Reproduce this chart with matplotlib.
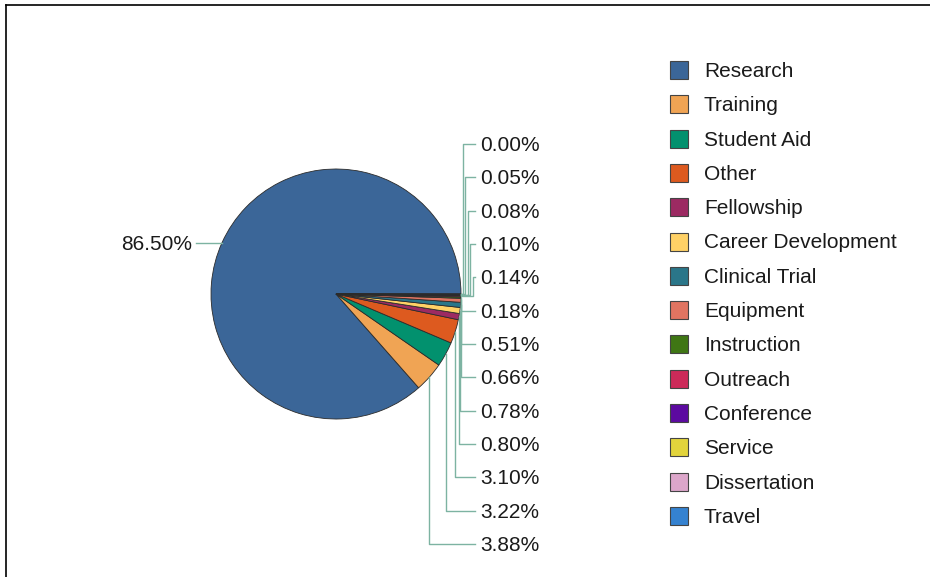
import numpy as np
import matplotlib.pyplot as plt
from matplotlib.patches import Rectangle
from matplotlib.lines import Line2D

plt.rcParams['font.family'] = ['Liberation Sans', 'DejaVu Sans']

# Daten
categories = ['Research', 'Training', 'Student Aid', 'Other', 'Fellowship',
              'Career Development', 'Clinical Trial', 'Equipment', 'Instruction',
              'Outreach', 'Conference', 'Service', 'Dissertation', 'Travel']
shares = [86.50, 3.88, 3.22, 3.10, 0.80, 0.78, 0.66, 0.51, 0.18, 0.14, 0.10, 0.08, 0.05, 0.00]
colors = ['#3b6698', '#f0a454', '#02916e', '#dd5a1f', '#9c2a62', '#ffd166',
          '#2a7689', '#e07461', '#3f7614', '#cc2a59', '#5c0aa0', '#e2d43c',
          '#dca6ca', '#3582d0']

W, H = 930, 577
fig = plt.figure(figsize=(W / 100, H / 100), dpi=100)
ax = fig.add_axes([0, 0, 1, 1])

# Pie (Pixelkoordinaten, y nach oben)
cx, cy, r = 336, H - 294, 125
wedges, _ = ax.pie(shares, colors=colors, startangle=0, counterclock=True,
                   center=(cx, cy), radius=r,
                   wedgeprops=dict(edgecolor='#2b2b2b', linewidth=0.6))
ax.set_xlim(0, W)
ax.set_ylim(0, H)
ax.axis('off')

line_col = '#7db3a2'
txt_col = '#1a1a1a'
fs = 15
dy = -1.5  # Text etwas tiefer

# Beschriftungen mit Führungslinien
n_small = len(shares) - 1
label_y = np.linspace(144, 544, n_small)  # von oben nach unten
for i, w in enumerate(wedges):
    mid = np.deg2rad((w.theta1 + w.theta2) / 2)
    axp = cx + r * np.cos(mid)
    ayp = cy + r * np.sin(mid)
    lab = f'{shares[i]:.2f}%'
    if i == 0:
        ax.plot([axp, 196], [ayp, ayp], color=line_col, lw=1)
        ax.text(192, ayp + dy, lab, ha='right', va='center', fontsize=fs, color=txt_col)
        continue
    ly = H - label_y[n_small - i]
    if ly > ayp + 1:
        rank = n_small - i
        xv = axp + 2 + 2.5 * rank
        xs = [axp, xv, xv, 475]
        ys = [ayp, ayp, ly, ly]
    else:
        xs = [axp, axp, 475]
        ys = [ayp, ly, ly]
    ax.plot(xs, ys, color=line_col, lw=1)
    ax.text(480, ly + dy, lab, ha='left', va='center', fontsize=fs, color=txt_col)

# Legende
for i, (cat, col) in enumerate(zip(categories, colors)):
    yc = H - (70 + i * 34.3)
    ax.add_patch(Rectangle((670, yc - 9), 18, 18, facecolor=col,
                           edgecolor='#444444', linewidth=0.8))
    ax.text(704, yc + dy, cat, ha='left', va='center', fontsize=fs, color=txt_col)

# Rahmen oben und links
fig.add_artist(Line2D([6 / W, 1], [1 - 5 / H, 1 - 5 / H], transform=fig.transFigure,
                      color='black', lw=1.2))
fig.add_artist(Line2D([6 / W, 6 / W], [0, 1 - 5 / H], transform=fig.transFigure,
                      color='black', lw=1.2))

fig.savefig('out.png', dpi=100, facecolor='white')
